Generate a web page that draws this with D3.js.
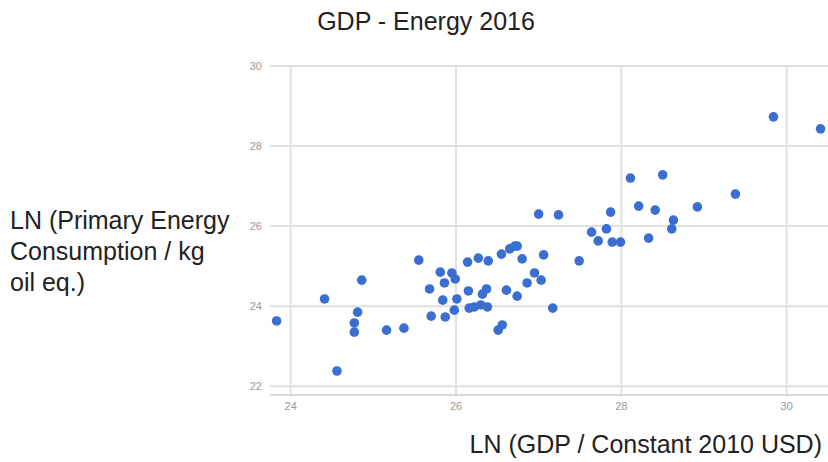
<!DOCTYPE html>
<html><head><meta charset="utf-8">
<script src="https://cdn.jsdelivr.net/npm/d3@7"></script>
<style>body{margin:0;background:#fff;font-family:Arial,"Liberation Sans",sans-serif}</style>
</head><body><div id="chart"></div>
<script>
// LN(GDP) values
const gdpLn = [23.83,24.41,24.56,24.86,24.81,24.77,24.77,25.16,25.37,25.55,25.68,25.70,25.81,25.84,25.86,25.87,25.95,25.99,26.01,25.98,26.14,26.15,26.16,26.22,26.27,26.32,26.37,26.30,26.38,26.39,26.51,26.56,26.55,26.61,26.65,26.71,26.74,26.80,26.74,26.86,26.95,27.03,27.06,27.17,27.49,27.00,27.24,27.64,27.72,27.82,27.87,27.89,27.99,28.11,28.21,28.33,28.41,28.50,28.63,28.61,28.92,29.38,29.84,30.41];
// LN(primary energy consumption)
const energyLn = [23.63,24.18,22.38,24.65,23.85,23.58,23.35,23.40,23.45,25.15,24.43,23.75,24.85,24.15,24.58,23.73,24.83,24.68,24.18,23.90,25.10,24.38,23.95,23.98,25.20,24.30,24.43,24.03,23.98,25.13,23.40,23.53,25.30,24.40,25.43,25.50,25.50,25.18,24.25,24.58,24.83,24.65,25.28,23.95,25.13,26.30,26.28,25.85,25.63,25.93,26.35,25.60,25.60,27.20,26.50,25.70,26.40,27.28,26.15,25.93,26.48,26.80,28.73,28.43];
const xTicks = [24, 26, 28, 30];
const yTicks = [22, 24, 26, 28, 30];

const W = 828, H = 462;
const svg = d3.select("#chart").append("svg").attr("width", W).attr("height", H);
const x = d3.scaleLinear().domain([23.75, 30.5]).range([270, 828]);
const y = d3.scaleLinear().domain([21.78, 30]).range([395, 66]);

svg.append("g").selectAll("line").data(xTicks).join("line")
  .attr("x1", d => x(d)).attr("x2", d => x(d)).attr("y1", 66).attr("y2", 395)
  .attr("stroke", "#e0e0e0").attr("stroke-width", 2);
svg.append("g").selectAll("line").data(yTicks).join("line")
  .attr("x1", 270).attr("x2", 828).attr("y1", d => y(d)).attr("y2", d => y(d))
  .attr("stroke", "#e0e0e0").attr("stroke-width", 2);
svg.append("line").attr("x1", 270).attr("x2", 828).attr("y1", 395).attr("y2", 395)
  .attr("stroke", "#ccc").attr("stroke-width", 1.5);

svg.append("g").selectAll("text").data(xTicks).join("text")
  .attr("x", d => x(d)).attr("y", 410).attr("text-anchor", "middle")
  .attr("font-size", 11).attr("fill", "#999").text(d => d);
svg.append("g").selectAll("text").data(yTicks).join("text")
  .attr("x", 262).attr("y", d => y(d) + 4).attr("text-anchor", "end")
  .attr("font-size", 11).attr("fill", "#999").text(d => d);

svg.append("g").selectAll("circle").data(gdpLn).join("circle")
  .attr("cx", d => x(d)).attr("cy", (d, i) => y(energyLn[i])).attr("r", 4.8)
  .attr("fill", "#3a6fd1");

svg.append("text").attr("x", 426).attr("y", 30).attr("text-anchor", "middle")
  .attr("font-size", 25).attr("fill", "#222").text("GDP - Energy 2016");
svg.append("text").attr("x", 822).attr("y", 453).attr("text-anchor", "end")
  .attr("font-size", 25).attr("fill", "#222").text("LN (GDP / Constant 2010 USD)");
const yt = svg.append("text").attr("font-size", 25).attr("fill", "#222");
["LN (Primary Energy", "Consumption / kg", "oil eq.)"].forEach((t, i) =>
  yt.append("tspan").attr("x", 10).attr("y", 229 + i * 31).text(t));
</script></body></html>
